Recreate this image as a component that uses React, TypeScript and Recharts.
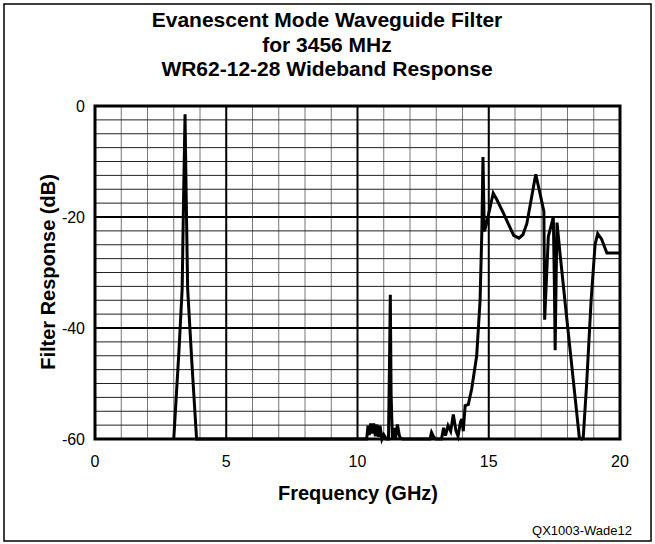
import { CartesianGrid, Line, LineChart, ReferenceArea, ReferenceLine, XAxis, YAxis } from "recharts"

// main passband around 3.456 GHz
const passGhz = [3.0, 3.2, 3.32, 3.38, 3.43, 3.47, 3.53, 3.7, 3.87]
const passDb = [-60, -44, -33, -15, -1.5, -15, -33, -47, -60]

// spurious response near 11 GHz
const spurGhz = [10.35, 10.4, 10.45, 10.5, 10.56, 10.62, 10.68, 10.74, 10.8, 10.86, 10.93, 11.0, 11.1, 11.18, 11.22, 11.25, 11.28, 11.33, 11.4, 11.45, 11.52, 11.6, 11.65, 11.73]
const spurDb = [-60, -57.6, -59.3, -57.2, -59, -57.2, -59.5, -57.4, -59.6, -57.6, -60, -59.2, -60, -60, -46, -34, -52, -60, -58, -59.8, -57.4, -59.5, -59.9, -60]

// waveguide passband above cutoff
const upperGhz = [12.76, 12.82, 12.9, 12.98, 13.2, 13.28, 13.35, 13.45, 13.55, 13.65, 13.75, 13.83, 13.92, 13.97, 14.03, 14.1, 14.22, 14.35, 14.54, 14.67, 14.74, 14.78, 14.83, 14.9, 15.17, 15.3, 15.56, 15.75, 15.95, 16.15, 16.3, 16.45, 16.6, 16.79, 16.95, 17.1, 17.13, 17.27, 17.46, 17.5, 17.53, 17.57, 17.6, 17.7, 17.9, 18.2, 18.45, 18.54, 18.6, 18.73, 18.9, 19.05, 19.15, 19.3, 19.5, 20]
const upperDb = [-60, -58.8, -59.6, -60, -60, -58, -59.4, -57.6, -58.6, -55.6, -58.5, -59.5, -57, -56.4, -58.6, -54, -53.8, -51, -45, -35, -22, -9.2, -22.6, -21.5, -15.7, -16.8, -19.3, -21.3, -23.3, -23.8, -23.2, -21.2, -17.3, -12.3, -15.7, -19, -38.5, -23.5, -20, -32, -44, -30, -21, -25.9, -35, -48.5, -59.7, -60, -59.7, -50, -35, -25, -23, -24, -26.5, -26.5]

const xTicks = [0, 1, 2, 3, 4, 5, 6, 7, 8, 9, 10, 11, 12, 13, 14, 15, 16, 17, 18, 19, 20]
const yTicks = [-60, -57.5, -55, -52.5, -50, -47.5, -45, -42.5, -40, -37.5, -35, -32.5, -30, -27.5, -25, -22.5, -20, -17.5, -15, -12.5, -10, -7.5, -5, -2.5, 0]
const xMajor = [5, 10, 15]
const yMajor = [-40, -20]

const titleLines = ["Evanescent Mode Waveguide Filter", "for 3456 MHz", "WR62-12-28 Wideband Response"]

const ghz = [...passGhz, ...spurGhz, ...upperGhz]
const db = [...passDb, ...spurDb, ...upperDb]
const data = ghz.map((g, i) => ({ ghz: g, db: db[i] }))

const font = "'Liberation Sans', Arial, Helvetica, sans-serif"

export default function App() {
  return (
    <div style={{ position: "absolute", left: 0, top: 0, width: 655, height: 544, background: "#fff", fontFamily: font }}>
      <LineChart width={655} height={544} data={data} margin={{ top: 106, right: 35, bottom: 75, left: 55 }}>
        <CartesianGrid horizontal={false} stroke="#777" strokeWidth={1} />
        <CartesianGrid vertical={false} stroke="#222" strokeWidth={1} />
        {xMajor.map((v) => (
          <ReferenceLine key={"x" + v} x={v} stroke="#000" strokeWidth={2} />
        ))}
        {yMajor.map((v) => (
          <ReferenceLine key={"y" + v} y={v} stroke="#000" strokeWidth={2} />
        ))}
        <XAxis
          dataKey="ghz"
          type="number"
          domain={[0, 20]}
          ticks={xTicks}
          interval={0}
          tickFormatter={(v) => (v % 5 === 0 ? String(v) : "")}
          axisLine={false}
          tickLine={false}
          tickSize={0}
          tickMargin={17}
          height={30}
          tick={{ fill: "#000", fontSize: 16, fontFamily: font }}
        />
        <YAxis
          type="number"
          domain={[-60, 0]}
          ticks={yTicks}
          interval={0}
          tickFormatter={(v) => (v % 20 === 0 ? String(v) : "")}
          axisLine={false}
          tickLine={false}
          tickSize={0}
          tickMargin={10}
          width={40}
          tick={{ fill: "#000", fontSize: 16, fontFamily: font }}
        />
        <ReferenceArea x1={0} x2={20} y1={-60} y2={0} fill="none" fillOpacity={0} stroke="#000" strokeWidth={3} />
        <Line
          type="linear"
          dataKey="db"
          stroke="#000"
          strokeWidth={3}
          dot={false}
          isAnimationActive={false}
        />
      </LineChart>
      <svg width={655} height={544} style={{ position: "absolute", left: 0, top: 0, pointerEvents: "none" }}>
        <rect x={4} y={4} width={647} height={537} fill="none" stroke="#000" strokeWidth={1.5} />
        {titleLines.map((t, i) => (
          <text key={t} x={327} y={27 + i * 24.5} textAnchor="middle" fontSize={21} fontWeight="bold" fontFamily={font} fill="#000">
            {t}
          </text>
        ))}
        <text x={358} y={500} textAnchor="middle" fontSize={20} fontWeight="bold" fontFamily={font} fill="#000">
          Frequency (GHz)
        </text>
        <text
          x={0}
          y={0}
          transform="translate(55,272) rotate(-90)"
          textAnchor="middle"
          fontSize={20}
          fontWeight="bold"
          fontFamily={font}
          fill="#000"
        >
          Filter Response (dB)
        </text>
        <text x={632} y={535} textAnchor="end" fontSize={13} fontFamily={font} fill="#000">
          QX1003-Wade12
        </text>
      </svg>
    </div>
  )
}
